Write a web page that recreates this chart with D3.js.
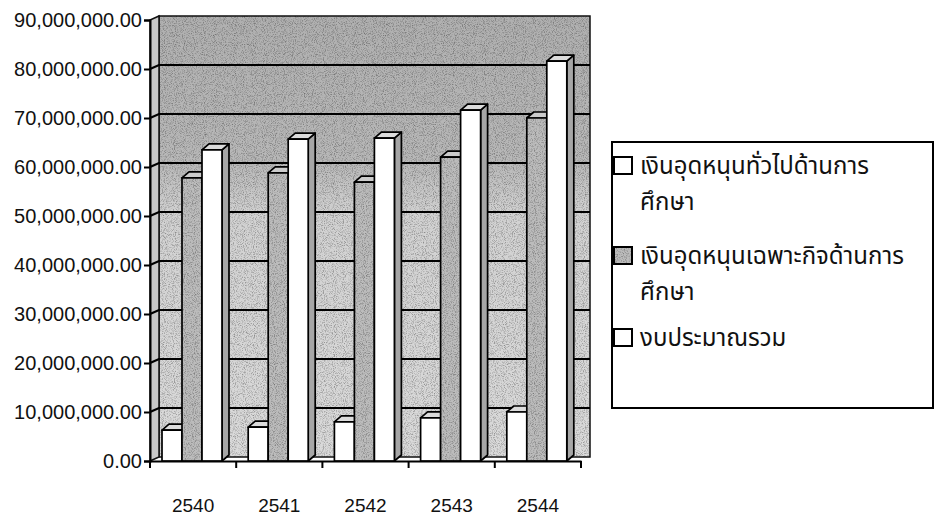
<!DOCTYPE html>
<html>
<head>
<meta charset="utf-8">
<script src="https://cdn.jsdelivr.net/npm/d3@7"></script>
<style>
  body { margin: 0; background: #fff; }
  svg text { font-family: "Liberation Sans", Arial, sans-serif; fill: #111; }
  .legend text { font-family: "Noto Sans Thai", "Noto Sans", "DejaVu Sans", sans-serif; }
</style>
</head>
<body>
<div id="chart"></div>
<script>
// values (baht)
var years = ['2540', '2541', '2542', '2543', '2544'];
var generalGrant = [6300000, 6900000, 8000000, 8800000, 10000000];
var specificGrant = [57800000, 58800000, 56900000, 62000000, 70000000];
var totalBudget = [63500000, 65700000, 65900000, 71600000, 81600000];
var seriesNames = ['เงินอุดหนุนทั่วไปด้านการ|ศึกษา', 'เงินอุดหนุนเฉพาะกิจด้านการ|ศึกษา', 'งบประมาณรวม'];
var yTicks = [0, 10000000, 20000000, 30000000, 40000000, 50000000, 60000000, 70000000, 80000000, 90000000];

var width = 937, height = 521;
var svg = d3.select('#chart').append('svg').attr('width', width).attr('height', height);

var x0 = 150, x1 = 581, yBase = 461, yTop = 20;
var wall = {dx: 9, dy: -4};     // back wall offset
var depth = {dx: 7, dy: -6};    // bar depth

var y = d3.scaleLinear().domain([0, 90000000]).range([yBase, yTop]);
var xCat = d3.scaleBand().domain(years).range([x0, x1]);
var xSer = d3.scaleBand().domain([0, 1, 2]).range([12, 72]);

var defs = svg.append('defs');
var grad = defs.append('linearGradient').attr('id', 'wallGrad')
  .attr('x1', 0).attr('y1', 0).attr('x2', 0).attr('y2', 1);
grad.append('stop').attr('offset', '0%').attr('stop-color', '#b0b0b0');
grad.append('stop').attr('offset', '33%').attr('stop-color', '#b8b8b8');
grad.append('stop').attr('offset', '45%').attr('stop-color', '#d2d2d2');
grad.append('stop').attr('offset', '100%').attr('stop-color', '#dadada');

// scanner grain
var grain = defs.append('filter').attr('id', 'grain')
  .attr('x', 0).attr('y', 0).attr('width', '100%').attr('height', '100%');
grain.append('feTurbulence').attr('type', 'fractalNoise').attr('baseFrequency', 1.1)
  .attr('numOctaves', 1).attr('seed', 4);
grain.append('feColorMatrix').attr('type', 'matrix')
  .attr('values', '0 0 0 0 0  0 0 0 0 0  0 0 0 0 0  0 0 0 1.0 -0.46');

var g = svg.append('g');

function grainy(sel) {
  return sel.clone().attr('fill', '#000').attr('stroke', 'none').attr('filter', 'url(#grain)');
}

// back wall
var backWall = g.append('rect')
  .attr('x', x0 + wall.dx).attr('y', y(90000000) + wall.dy)
  .attr('width', x1 - x0).attr('height', yBase - yTop)
  .attr('fill', 'url(#wallGrad)')
  .attr('stroke', '#111').attr('stroke-width', 1.5);
grainy(backWall);

// side wall
g.append('path')
  .attr('d', `M${x0},${yBase}L${x0 + wall.dx},${yBase + wall.dy}L${x0 + wall.dx},${yTop + wall.dy}L${x0},${yTop}Z`)
  .attr('fill', '#c8c8c8').attr('stroke', '#111').attr('stroke-width', 1.5);

// gridlines on side wall + back wall
yTicks.slice(1, -1).forEach(function(t) {
  g.append('path')
    .attr('d', `M${x0},${y(t)}L${x0 + wall.dx},${y(t) + wall.dy}L${x1 + wall.dx},${y(t) + wall.dy}`)
    .attr('fill', 'none').attr('stroke', '#000').attr('stroke-width', 2.2);
});

// bars
var series = [generalGrant, specificGrant, totalBudget];
var faceFill = ['#ffffff', '#bcbcbc', '#ffffff'];
var sideFill = ['#a0a0a0', '#909090', '#a6a6a6'];
var topFill = ['#dcdcdc', '#cccccc', '#dcdcdc'];

years.forEach(function(yr, i) {
  series.forEach(function(s, k) {
    var bx = xCat(yr) + xSer(k), bw = xSer.bandwidth();
    var by = y(s[i]);
    var bar = g.append('g').attr('stroke', '#000').attr('stroke-width', 1.7).attr('stroke-linejoin', 'round');
    bar.append('path')
      .attr('d', `M${bx + bw},${yBase}L${bx + bw + depth.dx},${yBase + depth.dy}L${bx + bw + depth.dx},${by + depth.dy}L${bx + bw},${by}Z`)
      .attr('fill', sideFill[k]);
    bar.append('path')
      .attr('d', `M${bx},${by}L${bx + depth.dx},${by + depth.dy}L${bx + bw + depth.dx},${by + depth.dy}L${bx + bw},${by}Z`)
      .attr('fill', topFill[k]);
    var face = bar.append('rect')
      .attr('x', bx).attr('y', by).attr('width', bw).attr('height', yBase - by)
      .attr('fill', faceFill[k]);
    if (k === 1) grainy(face);
  });
});

// y axis
var yAxis = g.append('g').attr('transform', `translate(${x0},0)`)
  .call(d3.axisLeft(y).tickValues(yTicks).tickSize(6).tickPadding(2)
    .tickFormat(d3.format(',.2f')));
yAxis.select('.domain').attr('stroke', '#000').attr('stroke-width', 2);
yAxis.selectAll('.tick line').attr('stroke', '#000').attr('stroke-width', 2);
yAxis.selectAll('.tick text').attr('font-size', 20).attr('fill', '#111')
  .attr('font-family', '"Liberation Sans", Arial, sans-serif');

// x axis
var xAxis = g.append('g').attr('transform', `translate(0,${yBase})`)
  .call(d3.axisBottom(xCat).tickSize(0).tickPadding(38));
xAxis.select('.domain').attr('stroke', '#000').attr('stroke-width', 2);
xAxis.selectAll('.tick text').attr('font-size', 19).attr('fill', '#111')
  .attr('font-family', '"Liberation Sans", Arial, sans-serif');
var bounds = years.map(function(yr) { return xCat(yr); }).concat([x1]);
g.selectAll('.xtick').data(bounds).enter().append('line')
  .attr('x1', function(d) { return d; }).attr('x2', function(d) { return d; })
  .attr('y1', yBase).attr('y2', yBase + 7)
  .attr('stroke', '#000').attr('stroke-width', 2);

// legend
var legend = svg.append('g').attr('class', 'legend');
legend.append('rect').attr('x', 612).attr('y', 142).attr('width', 321).attr('height', 266)
  .attr('fill', '#fff').attr('stroke', '#000').attr('stroke-width', 2);
var rowY = [174, 264, 346];
seriesNames.forEach(function(name, k) {
  var sw = legend.append('rect').attr('x', 614).attr('y', rowY[k] - 17).attr('width', 18).attr('height', 17)
    .attr('fill', faceFill[k]).attr('stroke', '#000').attr('stroke-width', 2);
  if (k === 1) grainy(sw);
  name.split('|').forEach(function(line, j) {
    legend.append('text').attr('x', 640).attr('y', rowY[k] + j * 36)
      .attr('font-size', 24).text(line);
  });
});
</script>
</body>
</html>
